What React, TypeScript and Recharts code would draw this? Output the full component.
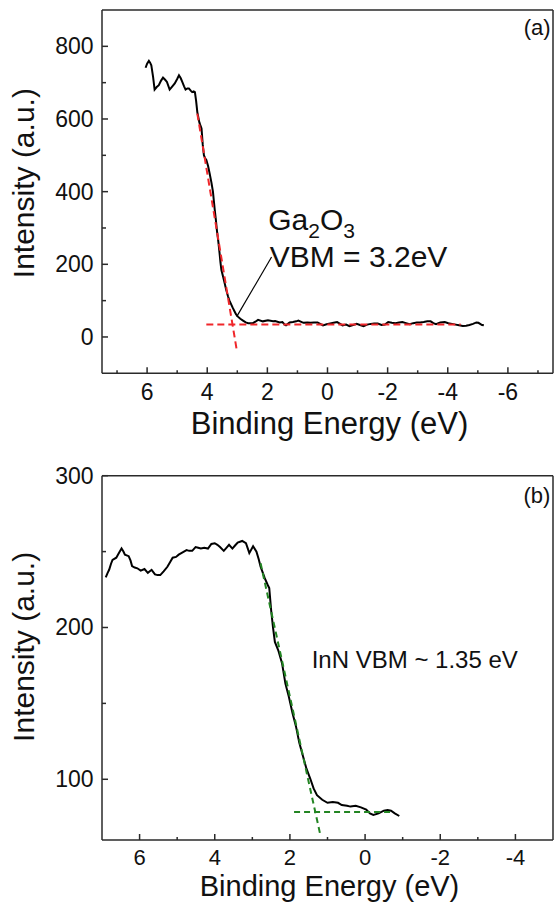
import React from "react";
import { LineChart, Line, XAxis, YAxis, ReferenceLine, ReferenceDot } from "recharts";

const FONT = "'Liberation Sans', Arial, Helvetica, sans-serif";
const INK = "#111";
const AXIS = "#2a2a2a";
const RED = "#f0262a";
const GREEN = "#238523";

// (a) Ga2O3 valence band spectrum
const gaEnergy = [
  6.05, 6.0, 5.94, 5.9, 5.86, 5.8, 5.75, 5.68, 5.61, 5.54, 5.47, 5.4, 5.34, 5.25, 5.16, 5.08, 5.0, 4.94,
  4.88, 4.83, 4.77, 4.72, 4.66, 4.61, 4.55, 4.5, 4.45, 4.41, 4.37, 4.33, 4.26, 4.19, 4.15, 4.11, 4.07,
  4.03, 3.97, 3.92, 3.86, 3.81, 3.78, 3.75, 3.71, 3.68, 3.63, 3.59, 3.56, 3.53, 3.47, 3.42, 3.37, 3.31,
  3.26, 3.2, 3.15, 3.09, 3.04, 2.98, 2.9, 2.81, 2.72, 2.64, 2.56, 2.48, 2.4, 2.31, 2.15, 1.98, 1.81,
  1.74, 1.59, 1.5, 1.42, 1.38, 1.26, 1.15, 1.04, 0.97, 0.8, 0.67, 0.56, 0.45, 0.33, 0.15, 0.03, -0.09,
  -0.2, -0.32, -0.42, -0.5, -0.62, -0.73, -0.85, -0.97, -1.08, -1.2, -1.32, -1.44, -1.55, -1.67, -1.8,
  -1.91, -2.02, -2.14, -2.26, -2.38, -2.49, -2.61, -2.73, -2.85, -2.97, -3.08, -3.2, -3.32, -3.43,
  -3.52, -3.61, -3.75, -3.9, -4.02, -4.14, -4.26, -4.38, -4.5, -4.61, -4.72, -4.84, -4.95, -5.02,
  -5.14, -5.2,
];
const gaIntensity = [
  741, 752, 760, 755, 748, 715, 681, 688, 693, 705, 714, 708, 702, 681, 690, 698, 710, 720,
  712, 702, 690, 681, 684, 684, 678, 674, 676, 674, 650, 619, 590, 574, 530, 500, 492,
  487, 470, 450, 425, 400, 375, 350, 320, 295, 262, 231, 205, 185, 165, 148, 130, 112,
  100, 89, 80, 70, 62, 56, 50, 45, 40, 38, 38, 38, 42, 47, 43, 46, 43,
  44, 40, 41, 34, 32, 40, 41, 43, 45, 39, 40, 39, 40, 40, 32, 35, 37,
  39, 41, 36, 32, 34, 30, 33, 36, 33, 30, 34, 36, 37, 37, 33,
  34, 41, 39, 38, 40, 41, 38, 35, 38, 40, 40, 41, 43, 43,
  38, 35, 40, 41, 38, 36, 34, 32, 30, 31, 33, 36, 40, 39,
  33, 32,
];
const gaEdgeFitX = [4.33, 3.01];
const gaEdgeFitY = [615, -40];
const gaBaseFitX = [4.03, -4.43];
const gaBaseFitY = [34, 34];
const gaPointerX = [1.86, 3.02];
const gaPointerY = [220, 56];
const gaXTicks = [7, 6, 5, 4, 3, 2, 1, 0, -1, -2, -3, -4, -5, -6, -7];
const gaYTicks = [0, 100, 200, 300, 400, 500, 600, 700, 800];

// (b) InN valence band spectrum
const innEnergy = [
  6.9, 6.85, 6.81, 6.76, 6.72, 6.62, 6.55, 6.48, 6.43, 6.39, 6.29, 6.24, 6.2, 6.13, 6.06, 5.97, 5.87,
  5.78, 5.68, 5.59, 5.52, 5.45, 5.36, 5.26, 5.19, 5.12, 5.03, 4.96, 4.89, 4.82, 4.75, 4.68, 4.6, 4.51,
  4.44, 4.37, 4.28, 4.18, 4.09, 4.0, 3.93, 3.86, 3.76, 3.69, 3.62, 3.53, 3.46, 3.39, 3.27, 3.17, 3.12,
  3.08, 2.98, 2.89, 2.83, 2.78, 2.72, 2.67, 2.59, 2.55, 2.5, 2.45, 2.4, 2.31, 2.21, 2.12, 2.03, 1.93,
  1.84, 1.75, 1.65, 1.56, 1.46, 1.37, 1.28, 1.14, 1.0, 0.86, 0.72, 0.62, 0.48, 0.39, 0.25, 0.11,
  -0.03, -0.13, -0.22, -0.36, -0.5, -0.6, -0.69, -0.79, -0.91,
];
const innIntensity = [
  233, 236, 238, 242, 244.5, 246, 249, 252, 250, 248, 247, 244, 240.5, 239.5, 239, 237.5, 238.5,
  236, 238, 235, 234.5, 234.5, 237, 240, 243, 246, 246.5, 248, 249, 250, 251, 250.5, 250.5, 253,
  252.5, 252, 252.5, 252, 255, 255.5, 254.5, 253, 250.5, 252.5, 254.5, 252, 254, 256, 257, 255.5, 252,
  249, 253.5, 250, 245, 240, 236, 232.5, 228, 226, 211.5, 200, 190.5, 185, 176.5, 163, 154.5, 143.5,
  135, 124, 115, 107, 100.5, 94, 89.5, 86.5, 84.5, 85, 84.5, 83, 82.5, 82, 82.5, 81.5,
  80, 77.5, 76.5, 77.5, 79.3, 79.8, 79.3, 77.6, 75.8,
];
const innEdgeFitX = [2.78, 1.2];
const innEdgeFitY = [242.3, 64.4];
const innBaseFitX = [1.89, -0.72];
const innBaseFitY = [78.5, 78.5];
const innXTicks = [6, 5, 4, 3, 2, 1, 0, -1, -2, -3, -4];
const innYTicks = [100, 150, 200, 250, 300];

const zip = (xs: number[], ys: number[]) => xs.map((x, i) => ({ x, y: ys[i] }));

const isMajor = (v: number, step: number) => Math.abs(v % step) < 1e-9;

function makeXTick(step: number, size: number, drop: number) {
  return (props: any) => {
    const { x, y, payload } = props;
    const v = payload.value;
    const major = isMajor(v, step);
    return (
      <g>
        <line x1={x} x2={x} y1={y} y2={y - (major ? 6 : 3)} stroke={AXIS} strokeWidth={1.5} />
        {major && (
          <text x={x} y={y + drop} textAnchor="middle" fontSize={size} fontFamily={FONT} fill={INK}>
            {String(v)}
          </text>
        )}
      </g>
    );
  };
}

function makeYTick(step: number) {
  return (props: any) => {
    const { x, y, payload } = props;
    const v = payload.value;
    const major = isMajor(v, step);
    return (
      <g>
        <line x1={x} x2={x + (major ? 6 : 4)} y1={y} y2={y} stroke={AXIS} strokeWidth={1.5} />
        {major && (
          <text x={x - 8.5} y={y + 8} textAnchor="end" fontSize={23} fontFamily={FONT} fill={INK}>
            {String(v)}
          </text>
        )}
      </g>
    );
  };
}

const XTitle = ({ viewBox, dy, size }: any) => (
  <text
    x={viewBox.x + viewBox.width / 2 + 2}
    y={viewBox.y + dy}
    textAnchor="middle"
    fontSize={size}
    fontFamily={FONT}
    fill={INK}
  >
    Binding Energy (eV)
  </text>
);

const YTitle = ({ viewBox, dy }: any) => {
  const cx = 24;
  const cy = viewBox.y + viewBox.height / 2 + dy;
  return (
    <text
      x={cx}
      y={cy}
      transform={`rotate(-90 ${cx} ${cy})`}
      textAnchor="middle"
      dominantBaseline="central"
      fontSize={30}
      fontFamily={FONT}
      fill={INK}
    >
      Intensity (a.u.)
    </text>
  );
};

const GaNote = ({ viewBox }: any) => {
  const x = viewBox.x + viewBox.width / 2;
  const y = viewBox.y + viewBox.height / 2;
  return (
    <g fontFamily={FONT} fill={INK}>
      <text x={x} y={y} fontSize={30}>
        Ga<tspan fontSize={21} dy={8}>2</tspan>
        <tspan dy={-8}>O</tspan>
        <tspan fontSize={21} dy={8}>3</tspan>
      </text>
      <text x={x + 1.5} y={y + 37} fontSize={30}>
        VBM = 3.2eV
      </text>
    </g>
  );
};

const PlainNote = ({ viewBox, text, size, anchor }: any) => (
  <text
    x={viewBox.x + viewBox.width / 2}
    y={viewBox.y + viewBox.height / 2}
    fontSize={size}
    textAnchor={anchor}
    fontFamily={FONT}
    fill={INK}
  >
    {text}
  </text>
);

const axisLine = { stroke: AXIS, strokeWidth: 1.5 };

function GaPanel() {
  return (
    <LineChart width={554} height={450} margin={{ top: 10, right: 1, bottom: 0, left: 0 }}>
      <XAxis
        dataKey="x"
        type="number"
        domain={[-7.5, 7.5]}
        reversed
        ticks={gaXTicks}
        interval={0}
        tick={makeXTick(2, 23, 27)}
        tickLine={false}
        tickSize={0}
        tickMargin={0}
        axisLine={axisLine}
        height={76.7}
        label={<XTitle dy={60.7} size={31} />}
      />
      <YAxis
        type="number"
        domain={[-100, 900]}
        ticks={gaYTicks}
        interval={0}
        tick={makeYTick(200)}
        tickLine={false}
        tickSize={0}
        tickMargin={0}
        axisLine={axisLine}
        width={102}
        label={<YTitle dy={-8.5} />}
      />
      <ReferenceLine x={-7.5} stroke={AXIS} strokeWidth={1.5} />
      <ReferenceLine y={900} stroke={AXIS} strokeWidth={1.5} />
      <Line
        data={zip(gaEnergy, gaIntensity)}
        dataKey="y"
        type="linear"
        stroke="#000"
        strokeWidth={2}
        dot={false}
        isAnimationActive={false}
      />
      <Line
        data={zip(gaEdgeFitX, gaEdgeFitY)}
        dataKey="y"
        type="linear"
        stroke={RED}
        strokeWidth={2}
        strokeDasharray="7 4"
        dot={false}
        isAnimationActive={false}
      />
      <Line
        data={zip(gaBaseFitX, gaBaseFitY)}
        dataKey="y"
        type="linear"
        stroke={RED}
        strokeWidth={2}
        strokeDasharray="7 4"
        dot={false}
        isAnimationActive={false}
      />
      <Line
        data={zip(gaPointerX, gaPointerY)}
        dataKey="y"
        type="linear"
        stroke="#000"
        strokeWidth={1.2}
        dot={false}
        isAnimationActive={false}
      />
      <ReferenceDot x={1.97} y={295} r={0} fill="none" stroke="none" label={<GaNote />} />
      <ReferenceDot
        x={-7.42}
        y={832}
        r={0}
        fill="none"
        stroke="none"
        label={<PlainNote text="(a)" size={22} anchor="end" />}
      />
    </LineChart>
  );
}

function InnPanel() {
  return (
    <LineChart width={554} height={452} margin={{ top: 25.7, right: 1, bottom: 0, left: 0 }}>
      <XAxis
        dataKey="x"
        type="number"
        domain={[-5, 7]}
        reversed
        ticks={innXTicks}
        interval={0}
        tick={makeXTick(2, 22, 24.5)}
        tickLine={false}
        tickSize={0}
        tickMargin={0}
        axisLine={axisLine}
        height={62}
        label={<XTitle dy={55.5} size={29} />}
      />
      <YAxis
        type="number"
        domain={[60, 300]}
        ticks={innYTicks}
        interval={0}
        tick={makeYTick(100)}
        tickLine={false}
        tickSize={0}
        tickMargin={0}
        axisLine={axisLine}
        width={102}
        label={<YTitle dy={-11} />}
      />
      <ReferenceLine x={-5} stroke={AXIS} strokeWidth={1.5} />
      <ReferenceLine y={300} stroke={AXIS} strokeWidth={1.5} />
      <Line
        data={zip(innEnergy, innIntensity)}
        dataKey="y"
        type="linear"
        stroke="#000"
        strokeWidth={2}
        dot={false}
        isAnimationActive={false}
      />
      <Line
        data={zip(innEdgeFitX, innEdgeFitY)}
        dataKey="y"
        type="linear"
        stroke={GREEN}
        strokeWidth={2}
        strokeDasharray="6 4"
        dot={false}
        isAnimationActive={false}
      />
      <Line
        data={zip(innBaseFitX, innBaseFitY)}
        dataKey="y"
        type="linear"
        stroke={GREEN}
        strokeWidth={2}
        strokeDasharray="6 4"
        dot={false}
        isAnimationActive={false}
      />
      <ReferenceDot
        x={1.42}
        y={173.3}
        r={0}
        fill="none"
        stroke="none"
        label={<PlainNote text="InN VBM ~ 1.35 eV" size={24} anchor="start" />}
      />
      <ReferenceDot
        x={-4.93}
        y={282}
        r={0}
        fill="none"
        stroke="none"
        label={<PlainNote text="(b)" size={22} anchor="end" />}
      />
    </LineChart>
  );
}

export default function App() {
  return (
    <div
      style={{
        position: "absolute",
        left: 0,
        top: 0,
        width: 554,
        height: 902,
        background: "#fff",
        overflow: "hidden",
      }}
    >
      <GaPanel />
      <InnPanel />
    </div>
  );
}
